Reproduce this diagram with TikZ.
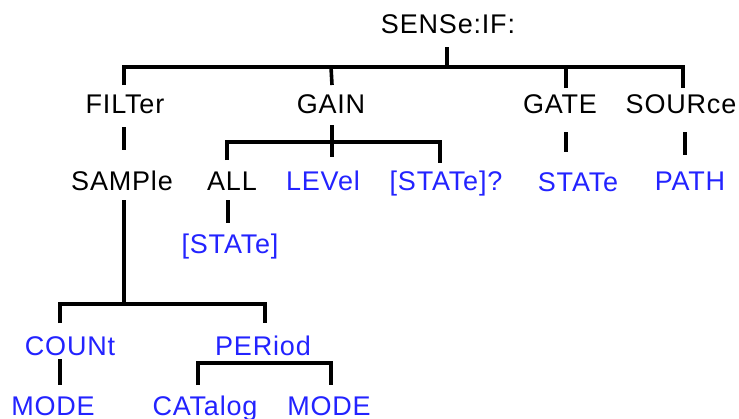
\documentclass[tikz,border=0pt]{standalone}
\usepackage{fontspec}
\setmainfont{Liberation Sans}[LetterSpace=3]
\usetikzlibrary{calc}
\definecolor{cmdblue}{RGB}{35,35,255}
\tikzset{
  lbl/.style={inner sep=0pt, outer sep=0pt, anchor=base, font=\fontsize{27}{30}\selectfont, text=black},
  leaf/.style={lbl, text=cmdblue},
  link/.style={draw=black, line width=3.6pt, line join=miter}
}
\begin{document}
\begin{tikzpicture}[x=1pt,y=-1pt]
\useasboundingbox[fill=white] (0,0) rectangle (739,418);
% nodes
\node[lbl]  (root)    at (448,33)  {SENSe:IF:};
\node[lbl]  (filter)  at (125,113) {FILTer};
\node[lbl]  (gain)    at (331,113) {GAIN};
\node[lbl]  (gate)    at (560,113) {GATE};
\node[lbl]  (source)  at (681,113) {SOURce};
\node[lbl]  (sample)  at (122,190) {SAMPle};
\node[lbl]  (all)     at (232,190) {ALL};
\node[leaf] (level)   at (323,190) {LEVel};
\node[leaf] (statq)   at (446,190) {[STATe]?};
\node[leaf] (state)   at (578,191) {STATe};
\node[leaf] (path)    at (690,190) {PATH};
\node[leaf] (astate)  at (230,253) {[STATe]};
\node[leaf] (count)   at (70,355)  {COUNt};
\node[leaf] (period)  at (263,355) {PERiod};
\node[leaf] (mode1)   at (53,415)  {MODE};
\node[leaf] (catalog) at (205,415) {CATalog};
\node[leaf] (mode2)   at (329,415) {MODE};
% junctions
\coordinate (jTop)  at (447,67);
\coordinate (jGain) at (332,142);
\coordinate (jSamp) at (124,304);
% connectors
\draw[link] ($(root.base)+(-1,14)$) -- (jTop);
\draw[link] ($(filter.base)+(-1,-28)$) |- (jTop) -| ($(source.base)+(2,-25)$);
\draw[link] ($(gain.base)+(1,-28)$) -- (jTop -| gain.base);
\draw[link] ($(gate.base)+(6,-25)$) -- ($(jTop -| gate.base)+(6,0)$);
\draw[link] ($(filter.base)+(-1,14)$) -- ($(sample.base)+(2,-40)$);
\draw[link] ($(gain.base)+(1,12)$) -- ($(level.base)+(9,-33)$);
\draw[link] ($(all.base)+(-5,-30)$) |- (jGain) -| ($(statq.base)+(-6,-27)$);
\draw[link] ($(gate.base)+(6,19)$) -- ($(state.base)+(-12,-39)$);
\draw[link] ($(source.base)+(4,19)$) -- ($(path.base)+(-5,-35)$);
\draw[link] ($(all.base)+(-4,10)$) -- ($(astate.base)+(-2,-30)$);
\draw[link] ($(sample.base)+(2,10)$) -- (jSamp);
\draw[link] ($(count.base)+(-10,-32)$) |- (jSamp) -| ($(period.base)+(2,-32)$);
\draw[link] ($(count.base)+(-10,4)$) -- ($(mode1.base)+(7,-30)$);
\draw[link] ($(catalog.base)+(-7,-30)$) |- ($(period.base)+(0,8)$) -| ($(mode2.base)+(2,-30)$);
\end{tikzpicture}
\end{document}
